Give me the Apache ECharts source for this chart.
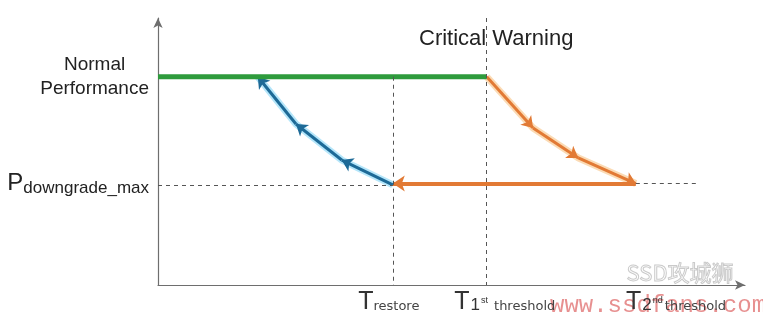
<!DOCTYPE html>
<html>
<head>
<meta charset="utf-8">
<script src="https://cdn.jsdelivr.net/npm/echarts@6/dist/echarts.min.js"></script>
<style>
  html, body { margin: 0; padding: 0; background: #fff; }
  #chart { width: 763px; height: 325px; }
</style>
</head>
<body>
<div id="chart"></div>
<script>
// Time markers on the horizontal axis (arbitrary time units)
const tRestore = 40;
const t1st = 56;
const t2nd = 92;

// Performance levels (arbitrary units)
const normalPerf = 78;
const pDowngradeMax = 38;

// Throttling path after the first threshold (performance drops step by step)
const throttleX = [56, 63.9, 71.6, 81.4];
const throttleY = [78, 58.8, 47.6, 38];

// Recovery path from the restore point back to normal performance
const restoreX = [40, 31.3, 23.5, 17];
const restoreY = [37.5, 46.8, 60.3, 78];

const orange = '#E27A35';
const blue = '#1D6A97';
const green = '#2E9B3C';
const dashGrey = '#555';

function pathSegments(xs, ys) {
  const segs = [];
  for (let i = 0; i < xs.length - 1; i++) {
    segs.push({ coords: [[xs[i], ys[i]], [xs[i + 1], ys[i + 1]]] });
  }
  return segs;
}

const chart = echarts.init(document.getElementById('chart'), null, { renderer: 'canvas' });

const dashed = { color: dashGrey, type: [4, 4], width: 1 };

chart.setOption({
  animation: false,
  grid: { left: 158, right: 18, top: 18, bottom: 40 },
  xAxis: {
    type: 'value', min: 0, max: 100, interval: 2,
    splitLine: { show: false },
    axisTick: { show: false },
    axisLine: {
      lineStyle: { color: '#6e6e6e', width: 1.2 },
      symbol: ['none', 'arrow'], symbolSize: [7, 10]
    },
    axisLabel: {
      margin: 5,
      showMinLabel: true, showMaxLabel: true,
      formatter: function (v) {
        if (v === tRestore) return '{T|T}{s|restore}{p0|}';
        if (v === t1st) return '{p1|}{T|T}{n|1}{sup|st}{s| threshold}';
        if (v === t2nd) return '{T|T}{n|2}{sup|nd}{s|threshold}{p2|}';
        return '';
      },
      rich: {
        T: { fontFamily: 'Liberation Sans', fontSize: 25, color: '#333', verticalAlign: 'bottom' },
        n: { fontFamily: 'Liberation Sans', fontSize: 17, color: '#333', verticalAlign: 'bottom', padding: [0, 0, 1, 1] },
        sup: { fontFamily: 'Liberation Sans', fontSize: 9, color: '#333', verticalAlign: 'top', padding: [6, 2, 0, 1] },
        s: { fontFamily: 'DejaVu Sans', fontSize: 13, color: '#444', verticalAlign: 'bottom', padding: [0, 0, 2, 0] },
        p0: { width: 8 },
        p1: { width: 36 },
        p2: { width: 44 }
      }
    }
  },
  yAxis: {
    type: 'value', min: 0, max: 100, interval: 2,
    splitLine: { show: false },
    axisTick: { show: false },
    axisLine: {
      lineStyle: { color: '#6e6e6e', width: 1.2 },
      symbol: ['none', 'arrow'], symbolSize: [7, 10]
    },
    axisLabel: {
      margin: 9,
      formatter: function (v) {
        if (v === normalPerf) return '{a|Normal}\n{a|Performance}';
        if (v === pDowngradeMax) return '{P|P}{d|downgrade_max}';
        return '';
      },
      rich: {
        a: { fontFamily: 'Liberation Sans', fontSize: 19, color: '#222', lineHeight: 24, align: 'center' },
        P: { fontFamily: 'Liberation Sans', fontSize: 24, color: '#222', verticalAlign: 'bottom' },
        d: { fontFamily: 'Liberation Sans', fontSize: 17, color: '#222', verticalAlign: 'bottom', padding: [0, 0, -1, 0] }
      }
    }
  },
  title: {
    text: 'Critical Warning',
    left: 414, top: 23,
    textStyle: { fontFamily: 'Liberation Sans', fontSize: 22, fontWeight: 'normal', color: '#222' }
  },
  graphic: [
    {
      type: 'text', left: 626, top: 261, silent: true,
      style: {
        text: 'SSD攻城狮',
        font: '22px "Noto Sans CJK SC"',
        fill: 'rgba(255, 255, 255, 0)',
        stroke: 'rgba(150, 150, 150, 0.5)',
        lineWidth: 1
      }
    },
    {
      type: 'text', left: 550, top: 294, silent: true,
      style: {
        text: 'www.ssdfans.com',
        font: '24px "Liberation Mono"',
        fill: 'rgba(215, 70, 70, 0.6)'
      }
    }
  ],
  series: [
    {
      // reference guide lines
      type: 'line', data: [], silent: true,
      markLine: {
        symbol: ['none', 'none'], silent: true, label: { show: false },
        lineStyle: dashed,
        data: [
          [{ coord: [tRestore, normalPerf] }, { coord: [tRestore, 0] }],
          [{ coord: [t1st, 100] }, { coord: [t1st, 0] }],
          [{ coord: [t2nd, 102] }, { coord: [t2nd, 0] }],
          [{ coord: [0, pDowngradeMax - 0.8] }, { coord: [tRestore, pDowngradeMax - 0.8] }],
          [{ coord: [throttleX[throttleX.length - 1], pDowngradeMax] }, { coord: [t2nd, pDowngradeMax] }]
        ]
      }
    },
    {
      // normal performance level
      type: 'line', silent: true, symbol: 'none',
      data: [[0, normalPerf], [t1st, normalPerf]],
      lineStyle: { color: green, width: 5 }
    },
    {
      // throttling path glow
      type: 'lines', coordinateSystem: 'cartesian2d', silent: true,
      polyline: true,
      data: [{ coords: throttleX.map((x, i) => [x, throttleY[i]]) }],
      lineStyle: { color: 'rgba(248, 190, 120, 0.55)', width: 7, opacity: 1 }
    },
    {
      type: 'lines', coordinateSystem: 'cartesian2d', silent: true,
      symbol: ['none', 'arrow'], symbolSize: 11,
      data: pathSegments(throttleX, throttleY),
      lineStyle: { color: orange, width: 3, opacity: 1 }
    },
    {
      // return to the restore point at the downgraded level
      type: 'lines', coordinateSystem: 'cartesian2d', silent: true,
      symbol: ['none', 'arrow'], symbolSize: 12,
      data: [{ coords: [[throttleX[throttleX.length - 1], pDowngradeMax], [tRestore, pDowngradeMax]] }],
      lineStyle: { color: orange, width: 4, opacity: 1 }
    },
    {
      // recovery path glow
      type: 'lines', coordinateSystem: 'cartesian2d', silent: true,
      polyline: true,
      data: [{ coords: restoreX.map((x, i) => [x, restoreY[i]]) }],
      lineStyle: { color: 'rgba(120, 210, 245, 0.55)', width: 7, opacity: 1 }
    },
    {
      type: 'lines', coordinateSystem: 'cartesian2d', silent: true,
      symbol: ['none', 'arrow'], symbolSize: 11,
      data: pathSegments(restoreX, restoreY),
      lineStyle: { color: blue, width: 3, opacity: 1 }
    }
  ]
});
</script>
</body>
</html>
